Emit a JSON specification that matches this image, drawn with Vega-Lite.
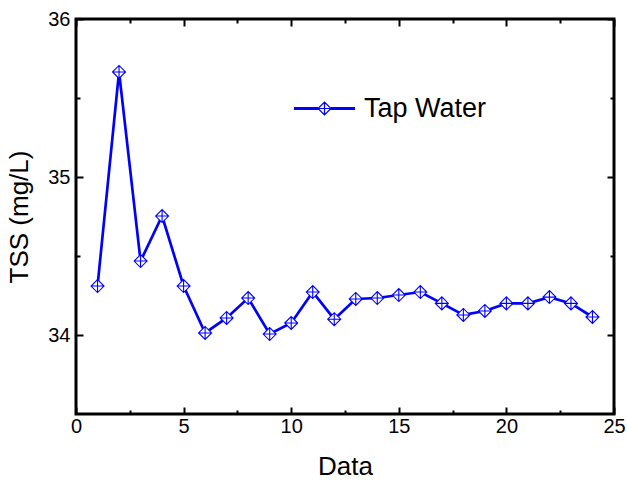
{
  "$schema": "https://vega.github.io/schema/vega-lite/v6.json",
  "autosize": "none",
  "width": 538,
  "height": 395,
  "padding": {"left": 76, "top": 19, "right": 13, "bottom": 67},
  "background": "white",
  "config": {
    "view": {"stroke": "black", "strokeWidth": 3},
    "font": "Liberation Sans",
    "axis": {
      "domain": false,
      "grid": false,
      "labelFont": "Liberation Sans",
      "titleFont": "Liberation Sans",
      "labelColor": "black",
      "titleColor": "black",
      "tickColor": "black",
      "tickWidth": 2,
      "labelFontSize": 20,
      "titleFontSize": 26,
      "titleFontWeight": "normal"
    }
  },
  "data": {
    "values": [
      {"x": 1, "y": 34.31},
      {"x": 2, "y": 35.665},
      {"x": 3, "y": 34.468},
      {"x": 4, "y": 34.753},
      {"x": 5, "y": 34.31},
      {"x": 6, "y": 34.013},
      {"x": 7, "y": 34.108},
      {"x": 8, "y": 34.234},
      {"x": 9, "y": 34.006},
      {"x": 10, "y": 34.076},
      {"x": 11, "y": 34.272},
      {"x": 12, "y": 34.10},
      {"x": 13, "y": 34.228},
      {"x": 14, "y": 34.234},
      {"x": 15, "y": 34.253},
      {"x": 16, "y": 34.272},
      {"x": 17, "y": 34.20},
      {"x": 18, "y": 34.127},
      {"x": 19, "y": 34.152},
      {"x": 20, "y": 34.20},
      {"x": 21, "y": 34.20},
      {"x": 22, "y": 34.24},
      {"x": 23, "y": 34.20},
      {"x": 24, "y": 34.114}
    ]
  },
  "resolve": {"axis": {"x": "independent", "y": "independent"}},
  "layer": [
    {
      "mark": {"type": "line", "strokeWidth": 2.7},
      "encoding": {
        "x": {
          "field": "x", "type": "quantitative",
          "scale": {"domain": [0, 25], "nice": false, "zero": false},
          "axis": {
            "title": "Data",
            "values": [0, 2.5, 5, 7.5, 10, 12.5, 15, 17.5, 20, 22.5, 25],
            "labelExpr": "datum.value % 5 === 0 ? format(datum.value, 'd') : ''",
            "tickSize": {"condition": {"test": "datum.value % 5 === 0", "value": -7}, "value": -4},
            "labelPadding": 9,
            "titlePadding": 14,
            "labelFlush": false,
            "labelOverlap": false
          }
        },
        "y": {
          "field": "y", "type": "quantitative",
          "scale": {"domain": [33.5, 36], "nice": false, "zero": false},
          "axis": {
            "title": "TSS (mg/L)",
            "values": [34, 34.5, 35, 35.5, 36],
            "labelExpr": "datum.value % 1 === 0 ? format(datum.value, 'd') : ''",
            "tickSize": {"condition": {"test": "datum.value % 1 === 0", "value": -7}, "value": -4},
            "labelPadding": 13,
            "titlePadding": 15,
            "labelFlush": false,
            "labelOverlap": false
          }
        },
        "stroke": {
          "datum": "Tap Water",
          "type": "nominal",
          "scale": {"range": ["#0000ff"]},
          "legend": {
            "title": null,
            "orient": "none",
            "legendX": 235,
            "legendY": 76,
            "padding": 0,
            "symbolType": "M-4.7,0L-1,0M-4.7,-0.12L-1,-0.12M-4.7,0.12L-1,0.12M1,0L4.7,0M1,-0.12L4.7,-0.12M1,0.12L4.7,0.12M-1,0L0,-1L1,0L0,1ZM-1,0L1,0M0,-1L0,1",
            "symbolSize": 169,
            "symbolStrokeWidth": 1.2,
            "symbolStrokeColor": "#0000ff",
            "symbolFillColor": "white",
            "labelFontSize": 27,
            "labelFont": "Liberation Sans",
            "labelColor": "black",
            "labelOffset": 26
          }
        }
      }
    },
    {
      "mark": {
        "type": "point",
        "shape": "M-1,0L0,-1L1,0L0,1ZM-1,0L1,0M0,-1L0,1",
        "size": 169,
        "filled": false,
        "fill": "white",
        "fillOpacity": 1,
        "stroke": "#0000ff",
        "strokeWidth": 1.1,
        "opacity": 1
      },
      "encoding": {
        "x": {"field": "x", "type": "quantitative", "axis": null},
        "y": {"field": "y", "type": "quantitative", "axis": null}
      }
    },
    {
      "mark": {"type": "point", "opacity": 0},
      "encoding": {
        "x": {
          "field": "x", "type": "quantitative",
          "axis": {
            "orient": "top", "title": null, "labels": false,
            "values": [0, 2.5, 5, 7.5, 10, 12.5, 15, 17.5, 20, 22.5, 25],
            "tickSize": {"condition": {"test": "datum.value % 5 === 0", "value": -7}, "value": -4}
          }
        },
        "y": {
          "field": "y", "type": "quantitative",
          "axis": {
            "orient": "right", "title": null, "labels": false,
            "values": [34, 34.5, 35, 35.5, 36],
            "tickSize": {"condition": {"test": "datum.value % 1 === 0", "value": -7}, "value": -4}
          }
        }
      }
    }
  ]
}
